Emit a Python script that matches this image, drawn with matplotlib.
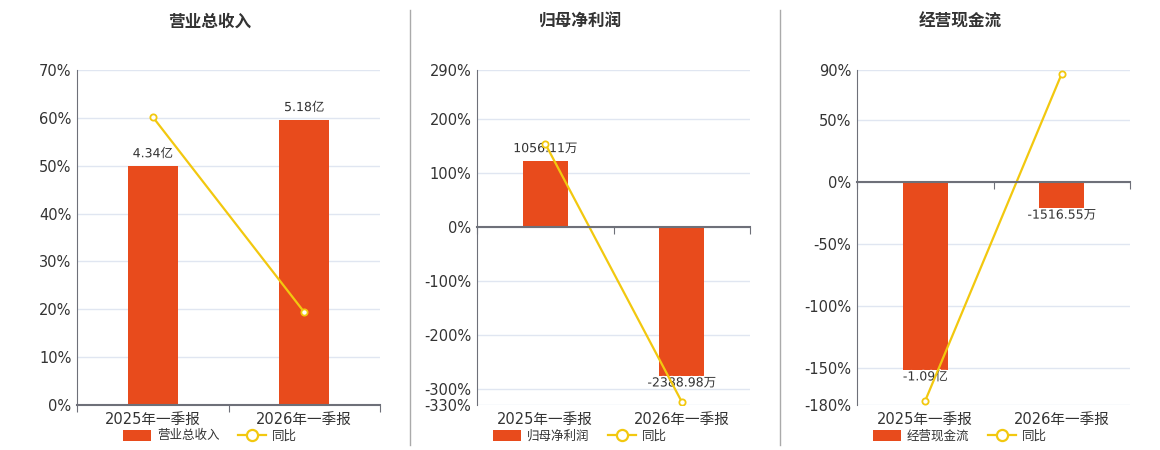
import matplotlib
matplotlib.use("Agg")
import matplotlib.pyplot as plt
from matplotlib.lines import Line2D
import matplotlib.patheffects as pe

plt.rcParams['font.family'] = ['DejaVu Sans', 'Noto Sans CJK SC']

categories = ['2025年一季报', '2026年一季报']

titles = ['营业总收入', '归母净利润', '经营现金流']

# bar values in 亿 yuan
revenue = [4.34, 5.18]
net_profit = [0.105611, -0.238898]
cash_flow = [-1.09, -0.151655]
bar_values = [revenue, net_profit, cash_flow]

bar_labels = [['4.34亿', '5.18亿'],
              ['1056.11万', '-2388.98万'],
              ['-1.09亿', '-1516.55万']]

# year-on-year growth, %
yoy = [[60.2, 19.4],
       [153.6, -324.0],
       [-176.5, 87.0]]

yticks = [[0, 10, 20, 30, 40, 50, 60, 70],
          [-330, -300, -200, -100, 0, 100, 200, 290],
          [-180, -150, -100, -50, 0, 50, 90]]

# hidden scale of the bars (亿)
bar_lims = [(0, 6.09), (-0.2853, 0.2517), (-1.293, 0.6496)]

BAR = '#E84B1C'
LINE = '#F2C80F'
AXIS = '#6E7079'
GRID = '#E0E6F1'
TEXT = '#333333'

fig = plt.figure(figsize=(11.6, 4.5), dpi=100)

W, H = 1160, 450
panels = [(77, 380), (477, 750), (857, 1130)]
centers = [210, 580, 960]
top, bottom = 70, 405

for i in range(3):
    x0, x1 = panels[i]
    rect = [x0 / W, 1 - bottom / H, (x1 - x0) / W, (bottom - top) / H]

    base = fig.add_axes(rect, label='base%d' % i)
    bars = fig.add_axes(rect, label='bars%d' % i)
    line = fig.add_axes(rect, label='line%d' % i)

    ylo, yhi = yticks[i][0], yticks[i][-1]
    for a in (base, line):
        a.set_xlim(-0.5, 1.5)
        a.set_ylim(ylo, yhi)
    bars.set_xlim(-0.5, 1.5)
    bars.set_ylim(*bar_lims[i])

    # base: grid, y ticks, category labels
    base.set_yticks(yticks[i])
    base.set_yticklabels(['%d%%' % v for v in yticks[i]])
    base.set_xticks([0, 1])
    base.set_xticklabels(categories)
    base.tick_params(axis='both', length=0, labelsize=10.5, colors=TEXT)
    base.tick_params(axis='x', pad=5)
    base.tick_params(axis='y', pad=4)
    base.grid(axis='y', color=GRID, linewidth=1)
    base.set_axisbelow(True)
    for s in ('top', 'right', 'bottom'):
        base.spines[s].set_visible(False)
    base.spines['left'].set_color(AXIS)

    # bars
    bars.axis('off')
    bars.patch.set_visible(False)
    bc = bars.bar([0, 1], bar_values[i], width=0.33, color=BAR, label=titles[i])
    for k, v in enumerate(bar_values[i]):
        off = 9 if v >= 0 else -5
        bars.annotate(bar_labels[i][k], (k, v), xytext=(0, off),
                      textcoords='offset points', ha='center', va='center',
                      fontsize=9, color=TEXT,
                      path_effects=[pe.withStroke(linewidth=2, foreground='white')])

    # line + zero axis
    line.patch.set_visible(False)
    for s in ('top', 'right', 'left'):
        line.spines[s].set_visible(False)
    line.spines['bottom'].set_position(('data', 0))
    line.spines['bottom'].set_color(AXIS)
    line.spines['bottom'].set_linewidth(1.5)
    line.set_yticks([])
    line.set_xticks([-0.5, 0.5, 1.5])
    line.set_xticklabels([])
    line.tick_params(axis='x', length=5, color=AXIS, direction='out')
    ln, = line.plot([0, 1], yoy[i], color=LINE, linewidth=1.6, marker='o',
                    markersize=4.5, markerfacecolor='white',
                    markeredgecolor=LINE, markeredgewidth=1.3, label='同比')

    fig.text(centers[i] / W, 1 - 22 / H, titles[i], ha='center', va='center',
             fontsize=12, fontweight='bold', color=TEXT)

    lh = Line2D([], [], color=LINE, linewidth=1.6, marker='o', markersize=8,
                markerfacecolor='white', markeredgecolor=LINE, markeredgewidth=1.6)
    fig.legend([bc, lh], [titles[i], '同比'], loc='center',
               bbox_to_anchor=(centers[i] / W, 1 - 436 / H), ncol=2,
               frameon=False, fontsize=9, handlelength=2.2, handleheight=1.0,
               columnspacing=1.5, handletextpad=0.5, labelcolor=TEXT)

for xs in (410, 780):
    fig.add_artist(Line2D([xs / W, xs / W], [1 - 445 / H, 1 - 10 / H],
                          color='#AAAAAA', linewidth=1))

fig.savefig('out.png', dpi=100)
